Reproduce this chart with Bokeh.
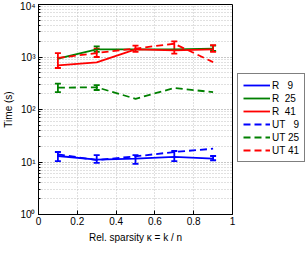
from bokeh.plotting import figure
from bokeh.models import (Legend, LegendItem, Whisker, ColumnDataSource,
                          CustomJSTickFormatter, LogTicker, FixedTicker)
from bokeh.embed import file_html
from bokeh.resources import INLINE

kappa = [0.1, 0.3, 0.5, 0.7, 0.9]
r9 = [13, 11.1, 11.6, 12.5, 11.6]
ut9 = [14, 10.9, 12.8, 15.5, 17.9]
r25 = [930, 1400, 1400, 1400, 1450]
ut25 = [260, 265, 160, 257, 214]
r41 = [690, 790, 1400, 1340, 1400]
ut41 = [960, 1190, 1450, 1790, 800]

# error bar extents (None = no visible bar)
r9_lo = [10.4, 9.6, 9.2, 10.4, 10.8]
r9_hi = [15.5, 13.5, 13.5, 16.2, 13.0]
r25_lo = [None, 1250, None, None, 1300]
r25_hi = [None, 1600, None, None, 1650]
ut25_lo = [215, 235, None, None, None]
ut25_hi = [310, 290, None, None, None]
r41_lo = [617, None, 1250, None, 1250]
r41_hi = [1190, None, 1650, None, 1680]
ut41_lo = [None, 1000, None, 1160, None]
ut41_hi = [None, 1440, None, 1990, None]

labels = ["R \u20079", "R  25", "R  41", "UT \u20079", "UT 25", "UT 41"]
xticks = [0, 0.2, 0.4, 0.6, 0.8, 1]

BLUE, GREEN, RED = "#0000ff", "#008000", "#ff0000"
FONT = "Liberation Sans"

p = figure(frame_width=194, frame_height=210, x_range=(0, 1), y_range=(1, 1e4), y_axis_type="log",
           output_backend="svg", toolbar_location=None,
           min_border_left=30, min_border_right=0, min_border_top=4, min_border_bottom=22,
           background_fill_color="white", border_fill_color="white")
p.outline_line_color = "black"

series = [(r9, BLUE, None, r9_lo, r9_hi), (r25, GREEN, None, r25_lo, r25_hi),
          (r41, RED, None, r41_lo, r41_hi), (ut9, BLUE, "7 4", None, None),
          (ut25, GREEN, "7 4", ut25_lo, ut25_hi), (ut41, RED, "7 4", ut41_lo, ut41_hi)]
items = []
for (vals, col, dash, lo, hi), lab in zip(series, labels):
    kw = {}
    if dash:
        kw["line_dash"] = dash
    r = p.line(kappa, vals, line_color=col, line_width=1.8, **kw)
    items.append(LegendItem(label=lab, renderers=[r]))
    if lo is not None:
        xs = [k for k, a in zip(kappa, lo) if a is not None]
        los = [a for a in lo if a is not None]
        his = [b for b in hi if b is not None]
        src = ColumnDataSource(dict(x=xs, lo=los, hi=his))
        w = Whisker(base="x", lower="lo", upper="hi", source=src, line_color=col, line_width=1.8)
        w.upper_head.size = 6
        w.lower_head.size = 6
        w.upper_head.line_color = col
        w.lower_head.line_color = col
        w.upper_head.line_width = 1.8
        w.lower_head.line_width = 1.8
        p.add_layout(w)

# axes
p.xaxis.ticker = FixedTicker(ticks=xticks, minor_ticks=[])
p.xaxis.formatter = CustomJSTickFormatter(code="return String(Math.round(tick*10)/10);")
p.yaxis.ticker = LogTicker(num_minor_ticks=10)
p.yaxis.formatter = CustomJSTickFormatter(code="""
const e = Math.round(Math.log10(tick));
const sup = {'0':'\\u2070','1':'\\u00b9','2':'\\u00b2','3':'\\u00b3','4':'\\u2074','-':'\\u207b'};
return '10' + String(e).split('').map(c => sup[c]).join('');
""")
for ax in (p.xaxis[0], p.yaxis[0]):
    ax.major_tick_in = 4
    ax.major_tick_out = 0
    ax.minor_tick_in = 2
    ax.minor_tick_out = 0
    ax.axis_line_color = "black"
    ax.major_tick_line_color = "black"
    ax.minor_tick_line_color = "black"
    ax.major_label_text_font = FONT
    ax.major_label_text_font_size = "10px"
    ax.major_label_text_color = "black"
    ax.axis_label_text_font = FONT
    ax.axis_label_text_font_size = "10px"
    ax.axis_label_text_font_style = "normal"
    ax.axis_label_text_color = "black"
p.xaxis.major_label_standoff = 2
p.yaxis.major_label_standoff = 3
p.xaxis.axis_label = "Rel. sparsity \u03ba = k / n"
p.yaxis.axis_label = "Time (s)"
p.xaxis.axis_label_standoff = 4
p.yaxis.axis_label_standoff = 3

# grids
p.xgrid.ticker = FixedTicker(ticks=xticks, minor_ticks=[])
p.xgrid.grid_line_color = "#c0c0c0"
p.xgrid.grid_line_dash = "1 2"
p.ygrid.grid_line_color = "#c0c0c0"
p.ygrid.grid_line_dash = "1 2"
p.ygrid.minor_grid_line_color = "#c0c0c0"
p.ygrid.minor_grid_line_dash = "1 2"

legend = Legend(items=items, location=(5, 52), border_line_color="black", border_line_width=1,
                label_text_font=FONT, label_text_font_size="10px", label_text_color="black",
                glyph_width=27, glyph_height=12, spacing=1, padding=5, margin=9,
                label_standoff=2, label_height=12, background_fill_alpha=1)
p.add_layout(legend, "right")

open("out.html", "w", encoding="utf-8").write(file_html(p, INLINE))
